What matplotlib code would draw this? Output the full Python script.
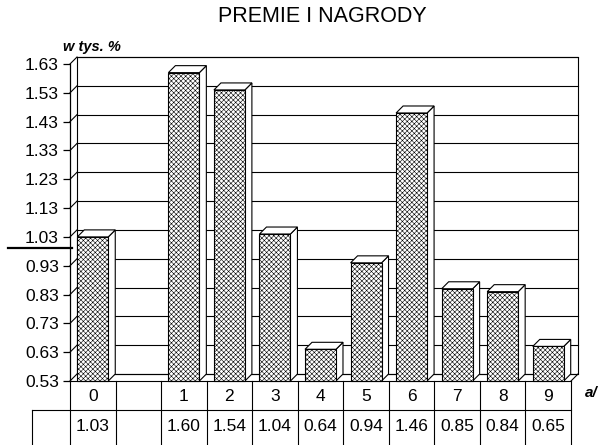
import matplotlib.pyplot as plt
from matplotlib.patches import Rectangle, Polygon
from matplotlib.lines import Line2D

# data
categories = ["0", "", "1", "2", "3", "4", "5", "6", "7", "8", "9"]
values = [1.03, None, 1.60, 1.54, 1.04, 0.64, 0.94, 1.46, 0.85, 0.84, 0.65]
value_labels = ["1.03", "", "1.60", "1.54", "1.04", "0.64", "0.94", "1.46", "0.85", "0.84", "0.65"]
yticks = [0.53, 0.63, 0.73, 0.83, 0.93, 1.03, 1.13, 1.23, 1.33, 1.43, 1.53, 1.63]

plt.rcParams['font.family'] = ['Liberation Sans', 'DejaVu Sans']
plt.rcParams['hatch.linewidth'] = 0.4

W, H = 603, 445
fig = plt.figure(figsize=(W / 100, H / 100), dpi=100)

# plot area in pixels
x0, x1 = 70, 571
y_bot, y_top = 381, 64
ymin, ymax = 0.53, 1.63
n = len(categories)
ax = fig.add_axes([x0 / W, 1 - y_bot / H, (x1 - x0) / W, (y_bot - y_top) / H])
ax.set_xlim(0, n)
ax.set_ylim(ymin, ymax)

sx = n / (x1 - x0)
sy = (ymax - ymin) / (y_bot - y_top)
dx, dy = 7 * sx, 7 * sy

# back wall, left wall and floor
ax.add_patch(Rectangle((dx, ymin + dy), n, ymax - ymin, facecolor='white',
                       edgecolor='black', linewidth=0.8, clip_on=False, zorder=1))
for t in yticks:
    ax.plot([dx, n + dx], [t + dy, t + dy], color='black', linewidth=0.8,
            clip_on=False, zorder=1.5)
    ax.plot([0, dx], [t, t + dy], color='black', linewidth=0.8, clip_on=False, zorder=1.5)
ax.plot([n, n + dx], [ymin, ymin + dy], color='black', linewidth=0.8, clip_on=False, zorder=1.5)

# bars with depth
hw = 0.34
for i, v in enumerate(values):
    if v is None:
        continue
    c = i + 0.5
    side = Polygon([(c + hw, ymin), (c + hw + dx, ymin + dy), (c + hw + dx, v + dy), (c + hw, v)],
                   closed=True, facecolor='white', edgecolor='black', linewidth=0.8,
                   clip_on=False, zorder=3)
    top = Polygon([(c - hw, v), (c + hw, v), (c + hw + dx, v + dy), (c - hw + dx, v + dy)],
                  closed=True, facecolor='white', edgecolor='black', linewidth=0.8,
                  clip_on=False, zorder=3)
    front = Rectangle((c - hw, ymin), 2 * hw, v - ymin, facecolor='white', edgecolor='black',
                      hatch='xxxxxxx', linewidth=0.8, clip_on=False, zorder=4)
    ax.add_patch(side)
    ax.add_patch(top)
    ax.add_patch(front)

# axis styling
for s in ['top', 'right', 'bottom']:
    ax.spines[s].set_visible(False)
ax.spines['left'].set_linewidth(0.9)
ax.set_xticks([])
ax.set_yticks(yticks)
ax.set_yticklabels([f"{t:.2f}" for t in yticks], fontsize=12.5)
ax.tick_params(axis='y', length=5, width=0.9, pad=3)
ax.patch.set_visible(False)


def fx(px):
    return px / W


def fy(py):
    return 1 - py / H


def fig_line(xs, ys, lw=0.8):
    fig.add_artist(Line2D([fx(p) for p in xs], [fy(p) for p in ys],
                          color='black', linewidth=lw))


# table under the chart
col_w = (x1 - x0) / n
row1, row2, row_end = 381, 410, 445
fig_line([x0, x1], [row1, row1])
fig_line([32, x1], [row2, row2])
fig_line([32, 32], [row2, row_end])
for k in range(n + 1):
    xb = x0 + k * col_w
    fig_line([xb, xb], [row1, row_end])
for k in range(n):
    xc = x0 + (k + 0.5) * col_w
    fig.text(fx(xc), fy((row1 + row2) / 2 + 1), categories[k], ha='center', va='center',
             fontsize=12.5)
    fig.text(fx(xc), fy((row2 + row_end) / 2 - 1), value_labels[k], ha='center', va='center',
             fontsize=12.5)

# texts
fig.text(fx(322), fy(16), "PREMIE I NAGRODY", ha='center', va='center', fontsize=15.5)
fig.text(fx(63), fy(47), "w tys. %", ha='left', va='center', fontsize=10.5,
         fontweight='bold', fontstyle='italic')
fig.text(fx(585), fy(393), "a/", ha='left', va='center', fontsize=11,
         fontweight='bold', fontstyle='italic')

# hand-drawn marker stroke at the left
fig_line([8, 72], [248, 248], lw=1.6)

fig.savefig("out.png", dpi=100)
